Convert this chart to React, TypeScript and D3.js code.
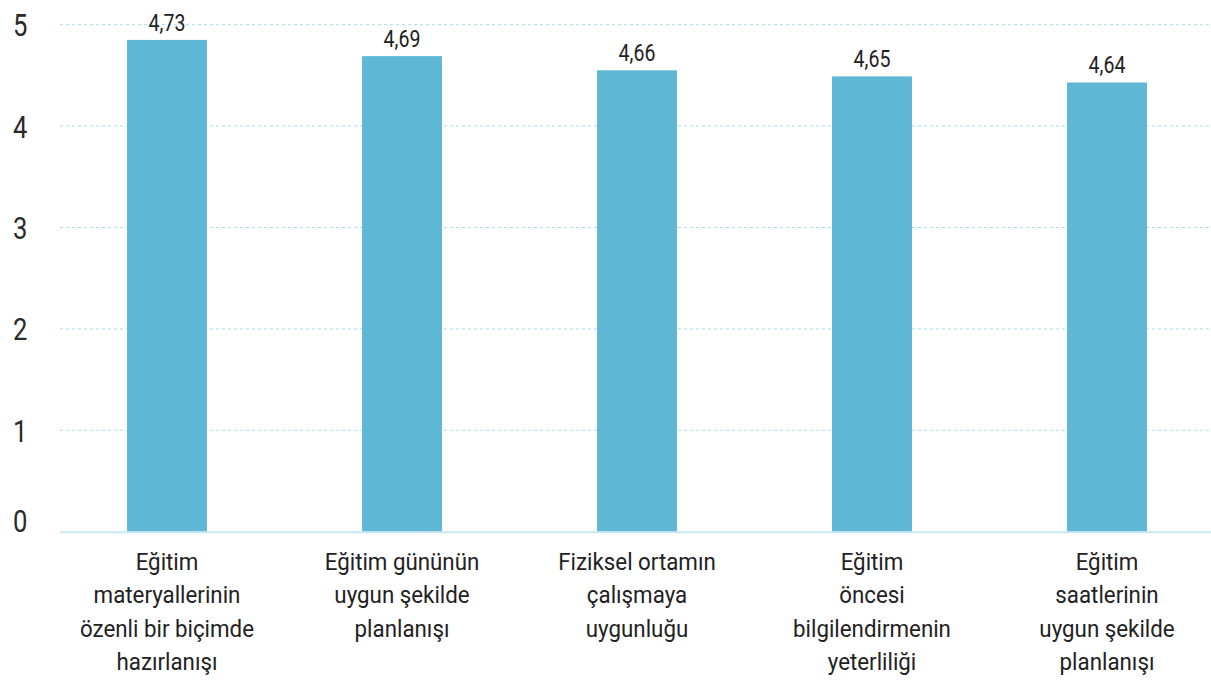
import React from "react";
import * as d3 from "d3";

const categories: string[][] = [
  ["Eğitim", "materyallerinin", "özenli bir biçimde", "hazırlanışı"],
  ["Eğitim gününün", "uygun şekilde", "planlanışı"],
  ["Fiziksel ortamın", "çalışmaya", "uygunluğu"],
  ["Eğitim", "öncesi", "bilgilendirmenin", "yeterliliği"],
  ["Eğitim", "saatlerinin", "uygun şekilde", "planlanışı"],
];
// bar heights as drawn in the picture
const barValues: number[] = [4.85, 4.69, 4.55, 4.49, 4.43];
// value labels as printed
const valueLabels: string[] = ["4,73", "4,69", "4,66", "4,65", "4,64"];
const yTicks: number[] = [0, 1, 2, 3, 4, 5];

const W = 1211;
const H = 682;
const FONT = "'Roboto', 'Noto Sans', sans-serif";

export default function App() {
  const y = d3.scaleLinear().domain([0, 5]).range([531.7, 24.7]);
  const x = d3
    .scaleBand<number>()
    .domain(d3.range(categories.length))
    .range([49.5, 1224.5])
    .paddingInner(0.66)
    .paddingOuter(0.33);
  const cx = (i: number) => (x(i) as number) + x.bandwidth() / 2;

  return (
    <svg
      width={W}
      height={H}
      style={{ position: "absolute", left: 0, top: 0, background: "#fff" }}
      fontFamily={FONT}
    >
      {yTicks.map((t) =>
        t === 0 ? null : (
          <line
            key={"g" + t}
            x1={60}
            x2={W}
            y1={y(t)}
            y2={y(t)}
            stroke="#a9dcea"
            strokeWidth={1}
            strokeDasharray="3,3"
          />
        )
      )}
      {yTicks.map((t) => (
        <text
          key={"t" + t}
          transform={`translate(13,${Math.min(y(t) + 11.5, 532)}) scale(0.8,1)`}
          fontSize={32}
          fontWeight={400}
          fill="#2a2a2a"
        >
          {t}
        </text>
      ))}
      {barValues.map((v, i) => (
        <rect
          key={"b" + i}
          x={x(i)}
          y={y(v)}
          width={x.bandwidth()}
          height={y(0) - y(v)}
          fill="#5eb8d5"
        />
      ))}
      <line x1={60} x2={W} y1={y(0) + 0.5} y2={y(0) + 0.5} stroke="#c8e7f2" strokeWidth={2} />
      {valueLabels.map((l, i) => (
        <text
          key={"v" + i}
          transform={`translate(${cx(i)},${y(barValues[i]) - 9}) scale(0.85,1)`}
          textAnchor="middle"
          fontSize={23}
          fontWeight={400}
          fill="#222"
        >
          {l}
        </text>
      ))}
      {categories.map((lines, i) => (
        <g key={"c" + i} transform={`translate(${cx(i)},0) scale(0.93,1)`}>
          <text textAnchor="middle" fontSize={24} fill="#222">
            {lines.map((ln, j) => (
              <tspan key={j} x={0} y={570 + j * 33.5}>
                {ln}
              </tspan>
            ))}
          </text>
        </g>
      ))}
    </svg>
  );
}
